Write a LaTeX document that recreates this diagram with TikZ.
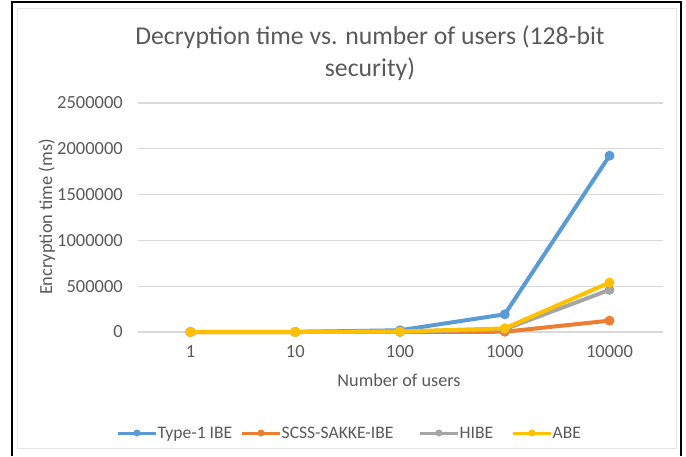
\documentclass[tikz,border=0pt]{standalone}
\usepackage{fontspec}
\setmainfont{Carlito}
\definecolor{ibeblue}{HTML}{5B9BD5}
\definecolor{sakkeorange}{HTML}{ED7D31}
\definecolor{hibegray}{HTML}{A5A5A5}
\definecolor{abegold}{HTML}{FFC000}
\definecolor{textgray}{HTML}{595959}
\definecolor{gridgray}{HTML}{D9D9D9}

\begin{document}
\begin{tikzpicture}
[x=1pt,y=-1pt,
  gridline/.style={draw=gridgray,line width=1.2pt},%
  ticklabel/.style={text=textgray,font=\fontsize{18.5}{22}\selectfont,inner sep=0pt},%
  seriesline/.style={line width=4pt,line join=round},%
  markerdecorate/.style={shape=circle,inner sep=0pt,minimum size=10pt},%
  legendline/.style={line width=3pt},%
  legendmarker/.style={shape=circle,inner sep=0pt,minimum size=7pt}]
\useasboundingbox (0,0) rectangle (686,456);
%% frame round the chart
\draw[line width=1.5pt] (12,456) -- (12,2) -- (681,2) -- (681,456);
\draw[gray!20] (17,8) rectangle (676,448);
%% title
\node (title) at (370,53) [text=textgray,font=\fontsize{25.7}{32}\selectfont,align=center,inner sep=0pt]
  {Decryption time vs. number of users (128-bit\\security)};
%% gridlines and value labels, one step is 500000
\foreach \lab [count=\k from 0] in {0,500000,1000000,1500000,2000000,2500000}
{
  \pgfmathsetmacro\gy{332-\k*45.8}
  \coordinate (grid\k-a) at (138,\gy);
  \coordinate (grid\k-b) at (663,\gy);
  \draw[gridline] (grid\k-a) -- (grid\k-b);
  \node (ylab\k) at (123,\gy) [ticklabel,anchor=east] {\lab};
}
%% category labels
\foreach \lab [count=\i from 0] in {1,10,100,1000,10000}
{
  \node (xlab\i) at (190.5+104.75*\i,352) [ticklabel] {\lab};
}
%% axis titles
\node (xtitle) at (399,380) [ticklabel,font=\fontsize{18.2}{22}\selectfont] {Number of users};
\node (ytitle) at (47,217) [ticklabel,font=\fontsize{18.4}{22}\selectfont,rotate=90] {Encryption time (ms)};
%% series, values in thousands of ms
\foreach \series/\col/\values in {
ibe/ibeblue/{0,1,19,193,1925},
sakke/sakkeorange/{0,0,1,3,124},
hibe/hibegray/{0,0,5,30,460},
abe/abegold/{0,0,5,40,540}}
{
  \foreach \v [count=\i from 0] in \values {
    \pgfmathsetmacro\py{332-\v*0.0916}
    \coordinate (\series-\i) at (190.5+104.75*\i,\py);
  }
  \draw[seriesline,\col] (\series-0) \foreach \i in {1,...,4} {-- (\series-\i)};
  \foreach \i in {0,...,4} {
    \node (\series-m\i) at (\series-\i) [markerdecorate,fill=\col] {};
  }
}
%% legend
\foreach \series/\col/\label/\lx in {
ibe/ibeblue/Type-1 IBE/118, sakke/sakkeorange/SCSS-SAKKE-IBE/242,
hibe/hibegray/HIBE/420, abe/abegold/ABE/513}
{
  \coordinate (leg-\series-a) at (\lx,433);
  \coordinate (leg-\series-b) at (\lx+38,433);
  \draw[legendline,\col] (leg-\series-a) -- (leg-\series-b);
  \node (leg-\series-m) at (\lx+19,433) [legendmarker,fill=\col] {};
  \node (leg-\series-text) at (\lx+39.5,438) [ticklabel,font=\fontsize{17.6}{21}\selectfont,anchor=base west] {\label};
}
\end{tikzpicture}
\end{document}
